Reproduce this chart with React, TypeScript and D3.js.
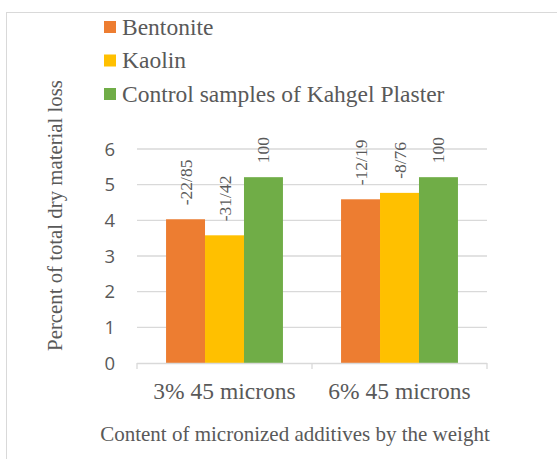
import { useEffect, useRef } from 'react'
import * as d3 from 'd3'

const categories = ['3% 45 microns', '6% 45 microns']
const seriesNames = ['Bentonite', 'Kaolin', 'Control samples of Kahgel Plaster']
const bentonite = [4.03, 4.59]
const kaolin = [3.58, 4.77]
const control = [5.21, 5.21]
const bentoniteLabels = ['-22/85', '-12/19']
const kaolinLabels = ['-31/42', '-8/76']
const controlLabels = ['100', '100']
const yTicks = [0, 1, 2, 3, 4, 5, 6]
const colors = ['#ED7D31', '#FFC000', '#70AD47']

const serif = 'Liberation Serif, Tinos, DejaVu Serif, serif'
const textColor = '#595959'

export default function App() {
  const svgRef = useRef<SVGSVGElement>(null)

  useEffect(() => {
    if (!svgRef.current) return
    const svg = d3.select(svgRef.current)
    svg.selectAll('*').remove()

    const values = [bentonite, kaolin, control]
    const labels = [bentoniteLabels, kaolinLabels, controlLabels]

    // chart frame (runs off the right and bottom edge)
    svg.append('rect')
      .attr('x', 6.5).attr('y', 12.5)
      .attr('width', 700).attr('height', 600)
      .attr('fill', '#fff')
      .attr('stroke', '#d9d9d9')

    const left = 137, right = 487, top = 149, bottom = 363

    const x0 = d3.scaleBand().domain(categories).range([left, right])
    const bw = x0.bandwidth()
    const x1 = d3.scaleBand().domain(seriesNames).range([bw * 0.166, bw * 0.834])
    const y = d3.scaleLinear().domain([0, 6]).range([bottom, top])

    // gridlines
    svg.append('g').selectAll('line')
      .data(yTicks.filter(t => t > 0))
      .enter().append('line')
      .attr('x1', left).attr('x2', right)
      .attr('y1', d => y(d)).attr('y2', d => y(d))
      .attr('stroke', '#d9d9d9').attr('stroke-width', 1.3)

    // y tick labels
    svg.append('g').selectAll('text')
      .data(yTicks)
      .enter().append('text')
      .attr('x', 115)
      .attr('y', d => y(d))
      .attr('dy', '0.36em')
      .attr('text-anchor', 'end')
      .attr('font-family', 'Open Sans, sans-serif')
      .attr('font-size', 18.5)
      .attr('fill', textColor)
      .text(d => d)

    // bars
    seriesNames.forEach((s, si) => {
      const g = svg.append('g')
      g.selectAll('rect')
        .data(values[si])
        .enter().append('rect')
        .attr('x', (d, i) => x0(categories[i])! + x1(s)!)
        .attr('y', d => y(d))
        .attr('width', x1.bandwidth())
        .attr('height', d => bottom - y(d))
        .attr('fill', colors[si])

      g.selectAll('text')
        .data(values[si])
        .enter().append('text')
        .attr('transform', (d, i) => {
          const cx = x0(categories[i])! + x1(s)! + x1.bandwidth() / 2
          return `translate(${cx + 6},${y(d) - 14}) rotate(-90)`
        })
        .attr('text-anchor', 'start')
        .attr('font-family', serif)
        .attr('font-size', 17.5)
        .attr('fill', textColor)
        .text((d, i) => labels[si][i])
    })

    // x axis line and ticks
    svg.append('line')
      .attr('x1', left).attr('x2', right)
      .attr('y1', bottom + 0.5).attr('y2', bottom + 0.5)
      .attr('stroke', '#d9d9d9').attr('stroke-width', 1.3)
    svg.append('g').selectAll('line')
      .data([left, ...categories.map(c => x0(c)! + bw)])
      .enter().append('line')
      .attr('x1', d => d).attr('x2', d => d)
      .attr('y1', bottom).attr('y2', bottom + 6)
      .attr('stroke', '#d9d9d9').attr('stroke-width', 1.3)

    svg.append('g').selectAll('text')
      .data(categories)
      .enter().append('text')
      .attr('x', d => x0(d)! + bw / 2)
      .attr('y', 399)
      .attr('text-anchor', 'middle')
      .attr('font-family', serif)
      .attr('font-size', 23.5)
      .attr('fill', textColor)
      .text(d => d)

    // axis titles
    svg.append('text')
      .attr('x', 295).attr('y', 441)
      .attr('text-anchor', 'middle')
      .attr('font-family', serif)
      .attr('font-size', 21)
      .attr('fill', textColor)
      .text('Content of micronized additives by the weight')

    svg.append('text')
      .attr('transform', 'translate(62,215.5) rotate(-90)')
      .attr('text-anchor', 'middle')
      .attr('font-family', serif)
      .attr('font-size', 20.8)
      .attr('fill', textColor)
      .text('Percent of total dry material loss')

    // legend
    const legend = svg.append('g').selectAll('g')
      .data(seriesNames)
      .enter().append('g')
      .attr('transform', (d, i) => `translate(104,${21 + i * 33.5})`)
    legend.append('rect')
      .attr('width', 12).attr('height', 12)
      .attr('fill', (d, i) => colors[i])
    legend.append('text')
      .attr('x', 18).attr('y', 13.5)
      .attr('font-family', serif)
      .attr('font-size', 23.5)
      .attr('fill', textColor)
      .text(d => d)
  }, [])

  return (
    <svg
      ref={svgRef}
      width={557}
      height={459}
      style={{ position: 'absolute', left: 0, top: 0, background: '#fff' }}
    />
  )
}
